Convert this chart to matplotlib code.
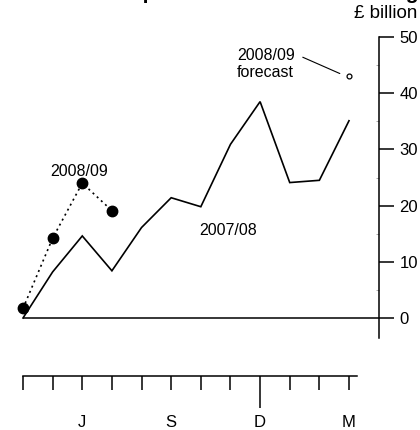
import matplotlib
matplotlib.use("Agg")
import matplotlib.pyplot as plt
from matplotlib.ticker import FixedLocator

plt.rcParams['font.family'] = ['Liberation Sans', 'DejaVu Sans']

# months of the financial year (April to March)
months = ['A', 'M', 'J', 'J', 'A', 'S', 'O', 'N', 'D', 'J', 'F', 'M']
shown_months = ['', '', 'J', '', '', 'S', '', '', 'D', '', '', 'M']

# cumulative borrowing, £ billion
fy0708 = [0, 8.2, 14.6, 8.4, 16.1, 21.4, 19.8, 30.9, 38.5, 24.1, 24.5, 35.1]
fy0809 = [1.7, 14.2, 24.0, 19.1]
forecast_0809 = 43.1

y_ticks = [0, 10, 20, 30, 40, 50]
y_minor = [0, 5, 10, 15, 20, 25, 30, 35, 40, 45, 50]

fig = plt.figure(figsize=(4.2, 4.3), dpi=100)
ax = fig.add_axes([0, 0, 1, 1])

# map: month 0 at px 23, month 11 at px 349 ; value 0 at px 318, 50 at px 37
px_per_month = (349 - 23) / 11
px_per_unit = (318 - 37) / 50
ax.set_xlim(-23 / px_per_month, (420 - 23) / px_per_month)
ax.set_ylim((318 - 430) / px_per_unit, 318 / px_per_unit)

x08 = list(range(len(fy0708)))
x09 = list(range(len(fy0809)))

ax.plot(x08, fy0708, color='black', lw=1.2, solid_joinstyle='miter')
ax.plot(x09, fy0809, color='black', lw=1.2, ls=(0, (1.2, 2.2)),
        marker='o', ms=7.5)
ax.plot([len(months) - 1], [forecast_0809], marker='o', ms=3.5,
        mfc='white', mec='black', mew=0.9, ls='none')

# zero line
ax.hlines(0, 0, 12, color='black', lw=1.1)

# labels
ax.text(1.89, 26.0, '2008/09', ha='center', va='center', fontsize=11.5)
ax.text(6.91, 15.5, '2007/08', ha='center', va='center', fontsize=11.5)
ax.text(8.19, 45.2, '2008/09\nforecast', ha='center', va='center',
        fontsize=11.5, linespacing=1.12)
ax.annotate('', xy=(10.69, 43.5), xytext=(9.44, 46.4),
            arrowprops=dict(arrowstyle='-', color='black', lw=0.8,
                            shrinkA=0, shrinkB=0))

# spines
for s in ['left', 'top']:
    ax.spines[s].set_visible(False)
ax.spines['right'].set_position(('data', 12))
ax.spines['right'].set_bounds((318 - 338) / px_per_unit, 50)
ax.spines['right'].set_linewidth(1.1)
ax.spines['bottom'].set_position(('data', (318 - 376) / px_per_unit))
ax.spines['bottom'].set_bounds(0, (357 - 23) / px_per_month)
ax.spines['bottom'].set_linewidth(1.1)

ax.yaxis.tick_right()
ax.set_yticks(y_ticks)
ax.yaxis.set_minor_locator(FixedLocator(y_minor))
ax.tick_params(axis='y', which='major', direction='out', length=11,
               width=1.1, pad=4, labelsize=12)
ax.tick_params(axis='y', which='minor', direction='in', length=2,
               width=0.6, color='#999999')

ax.set_xticks(range(len(months)))
ax.set_xticklabels(shown_months)
ax.tick_params(axis='x', direction='out', length=10, width=1.1,
               pad=18, labelsize=12)
ax.xaxis.get_major_ticks()[8].tick1line.set_markersize(23)

ax.text((417 - 23) / px_per_month, (318 - 14) / px_per_unit, '£ billion',
        ha='right', va='center', fontsize=13.5)

# title (cut off at the top of the picture, as in the source)
fig.text(418 / 420, 1 - 3 / 430, 'Cumulative public sector net borrowing',
         ha='right', va='bottom', fontsize=15, fontweight='bold')

fig.savefig('out.png', dpi=100)
